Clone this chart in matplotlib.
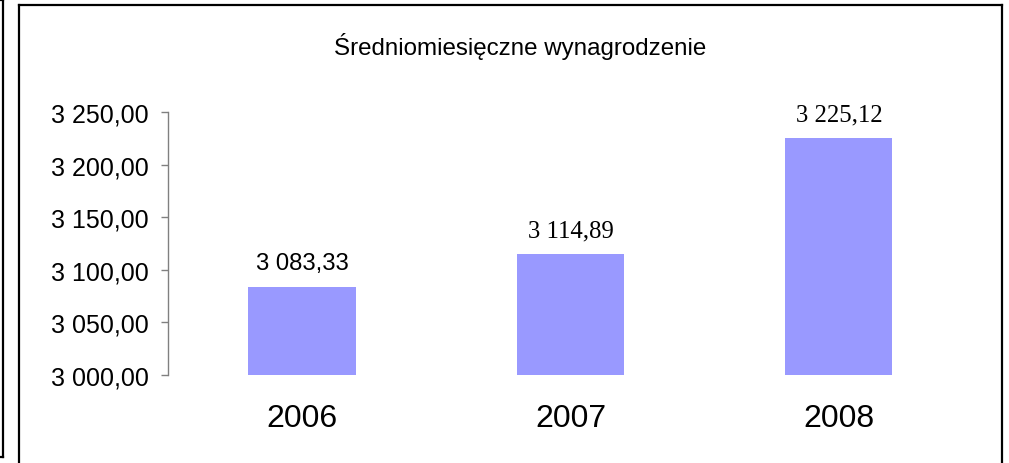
import matplotlib
matplotlib.use('Agg')
import matplotlib.pyplot as plt
from matplotlib.lines import Line2D
from matplotlib.ticker import FuncFormatter

years = ['2006', '2007', '2008']
salary = [3083.33, 3114.89, 3225.12]
label_fonts = ['Liberation Sans', 'Liberation Serif', 'Liberation Serif']
title = 'Średniomiesięczne wynagrodzenie'

plt.rcParams['font.family'] = ['Liberation Sans', 'DejaVu Sans']

W, H = 1009, 464
fig = plt.figure(figsize=(W / 100, H / 100), dpi=100)

# outer frames
lw = 1.6
frame = [
    ([18.5 / W, 18.5 / W], [0, 1 - 5.5 / H]),
    ([18.5 / W, 1001.5 / W], [1 - 5.5 / H, 1 - 5.5 / H]),
    ([1001.5 / W, 1001.5 / W], [1 - 5.5 / H, 0]),
    ([0, 3 / W], [1 - 1 / H, 1 - 1 / H]),
    ([3 / W, 3 / W], [1 - 1 / H, 1 - 458 / H]),
    ([0, 3 / W], [1 - 458 / H, 1 - 458 / H]),
]
for xs, ys in frame:
    fig.add_artist(Line2D(xs, ys, color='black', lw=lw, transform=fig.transFigure))

ax = fig.add_axes([168 / W, 88 / H, 805 / W, 263 / H])
x = range(len(years))
ax.bar(x, salary, width=0.4, color='#9999ff', bottom=0)
ax.set_xlim(-0.5, 2.5)
ax.set_ylim(3000, 3250)
ax.set_yticks([3000, 3050, 3100, 3150, 3200, 3250])
ax.yaxis.set_major_formatter(FuncFormatter(
    lambda v, p: '{:,.2f}'.format(v).replace(',', ' ').replace('.', ',')))
ax.set_xticks(list(x))
ax.set_xticklabels(years)

for s in ['top', 'right', 'bottom']:
    ax.spines[s].set_visible(False)
ax.spines['left'].set_color('#808080')
ax.spines['left'].set_linewidth(1.0)
ax.tick_params(axis='y', colors='#808080', labelcolor='black', length=5,
               width=1.0, labelsize=18, pad=9)
ax.tick_params(axis='x', length=0, labelsize=23, pad=20)

for i, v in enumerate(salary):
    lab = '{:,.2f}'.format(v).replace(',', ' ').replace('.', ',')
    fs = 17.2 if label_fonts[i] == 'Liberation Sans' else 17.8
    ax.annotate(lab, (i, v), xytext=(0, 24), textcoords='offset pixels',
                ha='center', va='center', fontsize=fs, family=label_fonts[i])

fig.text(520 / W, 1 - 47 / H, title, ha='center', va='center', fontsize=17.4)

fig.savefig('out.png', dpi=100)
